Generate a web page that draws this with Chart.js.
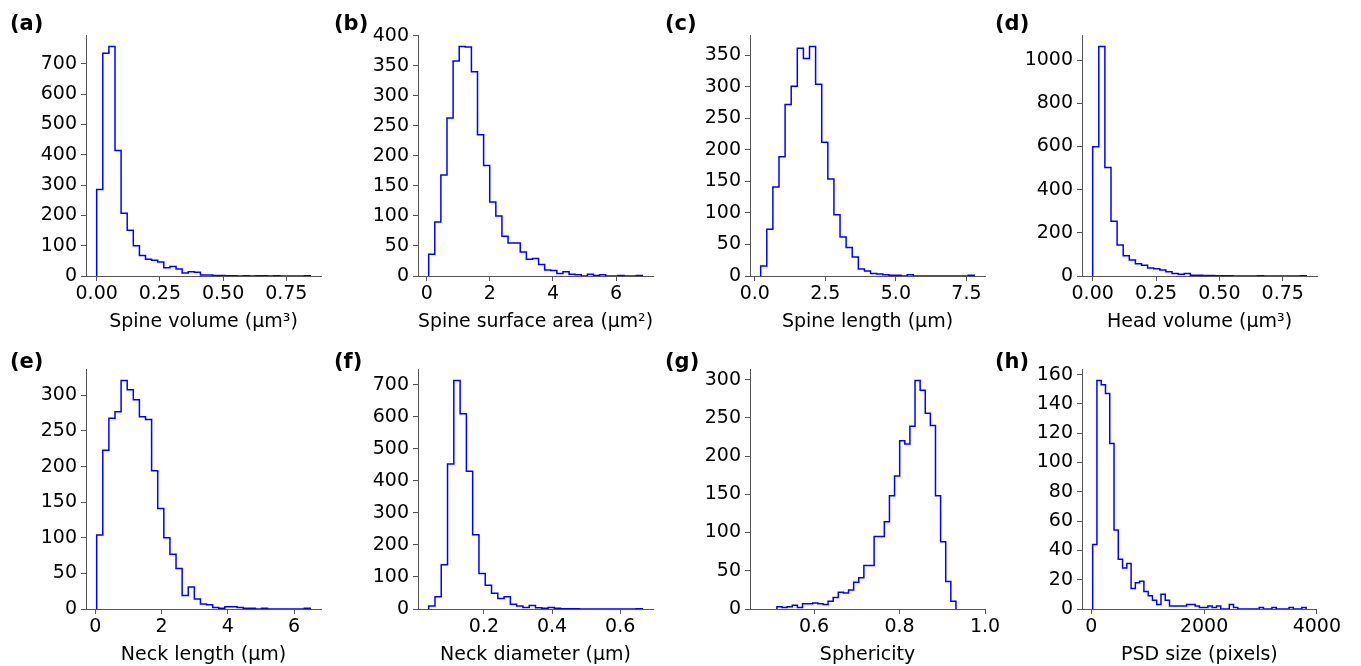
<!DOCTYPE html>
<html>
<head>
<meta charset="utf-8">
<script src="https://cdn.jsdelivr.net/npm/chart.js@4.4.1/dist/chart.umd.min.js"></script>
<style>
    html, body { margin: 0; padding: 0; background: #fff; overflow: hidden; }
    #figure { position: relative; width: 1361px; height: 666px; }
    #figure canvas { position: absolute; }
</style>
</head>
<body>
<div id="figure"></div>
<script>
// bin counts, plus the [first edge, last edge] of the bins
const spineVolumeCounts = [285, 735, 757, 414, 207, 151, 100, 68, 55, 52, 46, 27, 31, 23, 10, 14, 12, 3, 3, 2, 2, 1, 1, 0, 1, 0, 1, 1, 0, 1, 0, 0, 0, 0, 1];
const spineVolumeRange = [0, 0.845];
const spineSurfaceCounts = [36, 90, 168, 263, 358, 382, 381, 340, 235, 184, 123, 100, 66, 55, 55, 40, 28, 29, 19, 10, 9, 4, 7, 3, 2, 0, 3, 1, 2, 0, 0, 1, 0, 0, 1];
const spineSurfaceRange = [0.063, 6.83];
const spineLengthCounts = [16, 74, 141, 189, 272, 301, 361, 345, 364, 304, 212, 154, 97, 62, 45, 30, 11, 8, 4, 3, 2, 1, 1, 0, 2, 0, 0, 0, 0, 0, 0, 0, 0, 0, 1];
const spineLengthRange = [0.21, 7.78];
const headVolumeCounts = [599, 1063, 502, 254, 144, 94, 74, 57, 50, 37, 34, 28, 20, 12, 8, 12, 3, 3, 2, 2, 1, 1, 1, 0, 0, 0, 0, 1, 0, 0, 0, 0, 0, 0, 1];
const headVolumeRange = [0, 0.843];
const neckLengthCounts = [104, 223, 268, 277, 321, 308, 294, 270, 266, 194, 141, 100, 77, 57, 19, 31, 14, 7, 6, 2, 1, 3, 3, 2, 1, 1, 0, 1, 0, 0, 0, 0, 0, 0, 1];
const neckLengthRange = [0.04, 6.49];
const neckDiameterCounts = [9, 38, 138, 453, 714, 610, 430, 232, 111, 74, 49, 33, 38, 15, 9, 5, 11, 4, 2, 5, 2, 1, 1, 1, 0, 0, 0, 0, 0, 0, 0, 0, 0, 1];
const neckDiameterRange = [0.0376, 0.665];
const sphericityCounts = [3, 2, 3, 5, 2, 7, 7, 8, 7, 6, 10, 15, 22, 21, 25, 35, 41, 57, 57, 95, 95, 114, 148, 174, 220, 216, 239, 299, 286, 256, 240, 148, 88, 36, 10];
const sphericityRange = [0.513, 0.932];
const sphericityXLim = [0.45, 1.0];
const psdSizeCounts = [44, 156, 153, 147, 113, 54, 34, 28, 31, 14, 18, 19, 12, 9, 6, 3, 10, 6, 2, 2, 2, 2, 3, 3, 2, 1, 1, 2, 1, 2, 0, 0, 3, 1, 0, 0, 0, 0, 0, 1, 0, 0, 1, 0, 0, 0, 1, 0, 0, 1];
const psdSizeRange = [24, 3810];

// tick values and labels
const volumeTicks = [0, 0.25, 0.5, 0.75];
const volumeTickLabels = ["0.00", "0.25", "0.50", "0.75"];
const twoStepTicks = [0, 2, 4, 6];
const lengthTicks = [0, 2.5, 5, 7.5];
const lengthTickLabels = ["0.0", "2.5", "5.0", "7.5"];
const diameterTicks = [0.2, 0.4, 0.6];
const diameterTickLabels = ["0.2", "0.4", "0.6"];
const sphericityTicks = [0.6, 0.8, 1.0];
const sphericityTickLabels = ["0.6", "0.8", "1.0"];
const psdTicks = [0, 2000, 4000];

const spineVolumeYTicks = [0, 100, 200, 300, 400, 500, 600, 700];
const spineSurfaceYTicks = [0, 50, 100, 150, 200, 250, 300, 350, 400];
const spineLengthYTicks = [0, 50, 100, 150, 200, 250, 300, 350];
const headVolumeYTicks = [0, 200, 400, 600, 800, 1000];
const neckLengthYTicks = [0, 50, 100, 150, 200, 250, 300];
const neckDiameterYTicks = [0, 100, 200, 300, 400, 500, 600, 700];
const sphericityYTicks = [0, 50, 100, 150, 200, 250, 300];
const psdSizeYTicks = [0, 20, 40, 60, 80, 100, 120, 140, 160];

const panels = [
    { label: "(a)", counts: spineVolumeCounts, range: spineVolumeRange, xTicks: volumeTicks, xLabels: volumeTickLabels, yTicks: spineVolumeYTicks, title: "Spine volume (\u03bcm\u00b3)" },
    { label: "(b)", counts: spineSurfaceCounts, range: spineSurfaceRange, xTicks: twoStepTicks, yTicks: spineSurfaceYTicks, title: "Spine surface area (\u03bcm\u00b2)" },
    { label: "(c)", counts: spineLengthCounts, range: spineLengthRange, xTicks: lengthTicks, xLabels: lengthTickLabels, yTicks: spineLengthYTicks, title: "Spine length (\u03bcm)" },
    { label: "(d)", counts: headVolumeCounts, range: headVolumeRange, xTicks: volumeTicks, xLabels: volumeTickLabels, yTicks: headVolumeYTicks, title: "Head volume (\u03bcm\u00b3)" },
    { label: "(e)", counts: neckLengthCounts, range: neckLengthRange, xTicks: twoStepTicks, yTicks: neckLengthYTicks, title: "Neck length (\u03bcm)" },
    { label: "(f)", counts: neckDiameterCounts, range: neckDiameterRange, xTicks: diameterTicks, xLabels: diameterTickLabels, yTicks: neckDiameterYTicks, title: "Neck diameter (\u03bcm)" },
    { label: "(g)", counts: sphericityCounts, range: sphericityRange, xLim: sphericityXLim, xTicks: sphericityTicks, xLabels: sphericityTickLabels, yTicks: sphericityYTicks, title: "Sphericity" },
    { label: "(h)", counts: psdSizeCounts, range: psdSizeRange, xTicks: psdTicks, yTicks: psdSizeYTicks, title: "PSD size (pixels)" },
];

// page layout of the 4x2 grid
const COL_LEFT = [86, 418, 750, 1082];
const ROW_TOP = [35, 369];
const PLOT_W = 235;
const PLOT_H = [241, 240];
const Y_AXIS_W = 88;
const PAD_TOP = 35;
const PAD_RIGHT = 26;
const X_AXIS_H = 60;
const LABEL_X = [10, 334, 665, 995];
const LABEL_Y = [25, 363];

const AXIS_COLOR = "#555555";
const TEXT_COLOR = "#000000";

Chart.defaults.font.family = "'DejaVu Sans', sans-serif";
Chart.defaults.font.size = 19;
Chart.defaults.color = TEXT_COLOR;

const panelLabelPlugin = {
    id: "panelLabel",
    afterDraw(chart, args, opts) {
        const ctx = chart.ctx;
        ctx.save();
        ctx.font = "bold 21px 'DejaVu Sans', sans-serif";
        ctx.fillStyle = "#000";
        ctx.textBaseline = "middle";
        ctx.textAlign = "left";
        ctx.fillText(opts.text, opts.x, opts.y);
        ctx.restore();
    },
};

function stepOutline(counts, range) {
    const [lo, hi] = range;
    const width = (hi - lo) / counts.length;
    const points = [{ x: lo, y: 0 }];
    counts.forEach((count, i) => points.push({ x: lo + i * width, y: count }));
    points.push({ x: hi, y: 0 });
    return points;
}

function drawPanel(panel, index) {
    const col = index % 4;
    const row = Math.floor(index / 4);
    const canvasLeft = COL_LEFT[col] - Y_AXIS_W;
    const canvasTop = ROW_TOP[row] - PAD_TOP;
    const width = Y_AXIS_W + PLOT_W + PAD_RIGHT;
    const height = PAD_TOP + PLOT_H[row] + X_AXIS_H;

    const canvas = document.createElement("canvas");
    canvas.width = width;
    canvas.height = height;
    canvas.style.left = canvasLeft + "px";
    canvas.style.top = canvasTop + "px";
    canvas.style.width = width + "px";
    canvas.style.height = height + "px";
    document.getElementById("figure").appendChild(canvas);

    const [lo, hi] = panel.range;
    const margin = (hi - lo) * 0.05;
    const xMin = panel.xLim ? panel.xLim[0] : lo - margin;
    const xMax = panel.xLim ? panel.xLim[1] : hi + margin;
    const yMax = Math.max(...panel.counts) * 1.05;

    new Chart(canvas, {
        type: "line",
        data: {
            datasets: [
                {
                    data: stepOutline(panel.counts, panel.range),
                    stepped: true,
                    borderColor: "#0000ff",
                    borderWidth: 1.5,
                    pointRadius: 0,
                    fill: false,
                },
            ],
        },
        options: {
            responsive: false,
            animation: false,
            events: [],
            layout: { padding: { top: PAD_TOP, right: PAD_RIGHT, left: 0, bottom: 0 } },
            plugins: {
                legend: { display: false },
                tooltip: { enabled: false },
                panelLabel: { text: panel.label, x: LABEL_X[col] - canvasLeft, y: LABEL_Y[row] - canvasTop },
            },
            scales: {
                x: {
                    type: "linear",
                    min: xMin,
                    max: xMax,
                    z: 1,
                    afterFit: (scale) => { scale.height = X_AXIS_H; },
                    afterBuildTicks: (scale) => { scale.ticks = panel.xTicks.map((value) => ({ value })); },
                    grid: { drawOnChartArea: false, tickLength: 5, tickColor: AXIS_COLOR, color: AXIS_COLOR },
                    border: { color: AXIS_COLOR, width: 1 },
                    ticks: {
                        padding: 2,
                        maxRotation: 0,
                        autoSkip: false,
                        color: TEXT_COLOR,
                        callback: (value, i) => (panel.xLabels ? panel.xLabels[i] : String(value)),
                    },
                    title: { display: true, text: panel.title, color: TEXT_COLOR, padding: { top: 0, bottom: 3 } },
                },
                y: {
                    min: 0,
                    max: yMax,
                    z: 1,
                    afterFit: (scale) => { scale.width = Y_AXIS_W; },
                    afterBuildTicks: (scale) => { scale.ticks = panel.yTicks.map((value) => ({ value })); },
                    grid: { drawOnChartArea: false, tickLength: 5, tickColor: AXIS_COLOR, color: AXIS_COLOR },
                    border: { color: AXIS_COLOR, width: 1 },
                    ticks: { padding: 4, autoSkip: false, color: TEXT_COLOR, callback: (value) => String(value) },
                },
            },
        },
        plugins: [panelLabelPlugin],
    });
}

panels.forEach(drawPanel);
</script>
</body>
</html>
